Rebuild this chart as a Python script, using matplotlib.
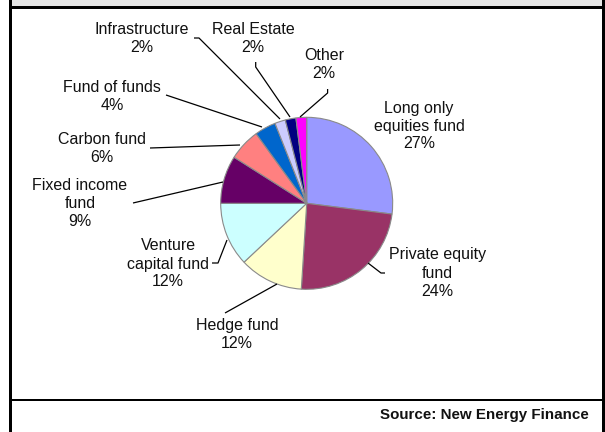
import matplotlib
matplotlib.use("Agg")
import matplotlib.pyplot as plt
from matplotlib.patches import Rectangle

plt.rcParams['font.family'] = ['Liberation Sans', 'DejaVu Sans']

# ---- data ----
categories = ["Long only\nequities fund", "Private equity\nfund", "Hedge fund",
              "Venture\ncapital fund", "Fixed income\nfund", "Carbon fund",
              "Fund of funds", "Infrastructure", "Real Estate", "Other"]
shares = [27, 24, 12, 12, 9, 6, 4, 2, 2, 2]
colors = ["#9999FF", "#993366", "#FFFFCC", "#CCFFFF", "#660066", "#FF8080",
          "#0066CC", "#CCCCFF", "#000080", "#FF00FF"]
source_text = "Source: New Energy Finance"

# ---- layout (pixel coordinates, y from top) ----
W, H = 605, 432
label_pos = [(419, 126), (437.5, 273), (237, 334.5), (168, 264), (80, 203),
             (102, 148.5), (112, 96), (141.5, 38), (253, 38), (324, 64.5)]
leaders = [
    None,
    [(385, 273), (381, 273), (368, 263)],
    [(225, 313), (277, 284)],
    [(212, 263), (218, 263), (227, 240)],
    [(133, 203), (223, 182)],
    [(150, 148), (240, 145)],
    [(166, 95), (262, 127)],
    [(194, 38), (199, 38), (280, 119)],
    [(255.7, 62), (255.7, 67), (290, 117)],
    [(327.6, 89), (327.6, 93), (300, 117)],
]
pie_center = (306.7, 203.3)
pie_radius = 86


def Y(py):
    return H - py


fig = plt.figure(figsize=(W / 100, H / 100), dpi=100)
ax = fig.add_axes([0, 0, 1, 1])

ax.pie(shares, colors=colors, startangle=90, counterclock=False,
       center=(pie_center[0], Y(pie_center[1])), radius=pie_radius,
       wedgeprops=dict(edgecolor="#8a8a8a", linewidth=0.8))

ax.set_xlim(0, W)
ax.set_ylim(0, H)
ax.set_aspect('auto')
ax.axis('off')

total = sum(shares)
for cat, v, (px, py) in zip(categories, shares, label_pos):
    ax.text(px, Y(py), f"{cat}\n{round(v / total * 100)}%", ha='center', va='center',
            multialignment='center', fontsize=11.5, linespacing=1.25, color='#111111')

for seg in leaders:
    if seg is None:
        continue
    xs = [p[0] for p in seg]
    ys = [Y(p[1]) for p in seg]
    ax.plot(xs, ys, color='black', linewidth=0.9, solid_capstyle='butt')

# frame
ax.add_patch(Rectangle((12, Y(6)), 590, 6, facecolor='#E5E5E5', edgecolor='none'))
ax.add_patch(Rectangle((12, Y(8.5)), 593, 2.5, facecolor='black', edgecolor='none'))
ax.add_patch(Rectangle((9, 0), 3, H, facecolor='black', edgecolor='none'))
ax.add_patch(Rectangle((602, 0), 3, H, facecolor='black', edgecolor='none'))
ax.add_patch(Rectangle((12, Y(401)), 590, 2.5, facecolor='black', edgecolor='none'))

ax.text(589, Y(415), source_text, ha='right', va='center', fontsize=10.9,
        fontweight='bold', color='#111111')

fig.savefig("out.png", dpi=100)
